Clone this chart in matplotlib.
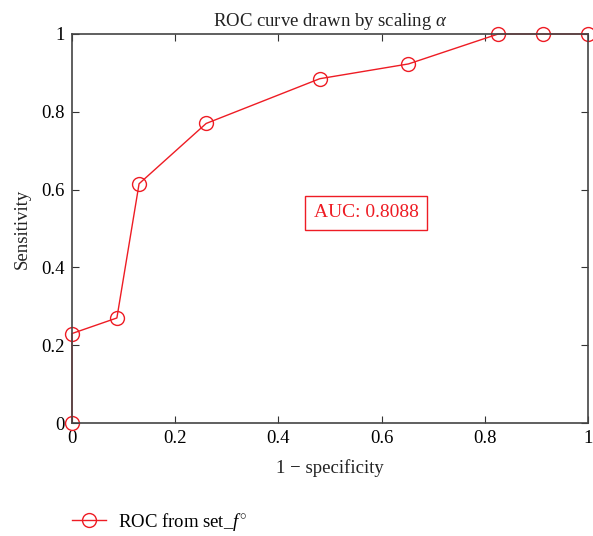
import numpy as np
import matplotlib.pyplot as plt

plt.rcParams['font.family'] = ['Liberation Serif', 'DejaVu Serif']
plt.rcParams['mathtext.fontset'] = 'custom'
plt.rcParams['mathtext.it'] = 'Liberation Serif:italic'
plt.rcParams['mathtext.rm'] = 'Liberation Serif'

# ROC points
fpr = [0, 0, 0.087, 0.13, 0.26, 0.48, 0.652, 0.826, 0.913, 1.0]
tpr = [0, 0.23, 0.27, 0.615, 0.77, 0.885, 0.923, 1.0, 1.0, 1.0]
ticks = [0, 0.2, 0.4, 0.6, 0.8, 1]
tick_labels = ['0', '0.2', '0.4', '0.6', '0.8', '1']
auc = 0.8088

fig = plt.figure(figsize=(5.93, 5.36), dpi=100)
ax = fig.add_axes([0.1214, 0.2108, 0.8702, 0.7258])

red = '#ee1c24'
line, = ax.plot(fpr, tpr, color=red, lw=1, marker='o', markersize=10,
                markerfacecolor='none', markeredgecolor=red, markeredgewidth=1,
                clip_on=False, label=r'ROC from set_$f^{\circ}$')

ax.set_xlim(0, 1)
ax.set_ylim(0, 1)
ax.set_xticks(ticks)
ax.set_xticklabels(tick_labels)
ax.set_yticks(ticks)
ax.set_yticklabels(tick_labels)
ax.tick_params(direction='in', top=True, right=True, labelsize=13.5, color='#333333',
               length=5, pad=5)
for s in ax.spines.values():
    s.set_color('#444444')
    s.set_linewidth(1.2)

ax.set_title(r'ROC curve drawn by scaling $\alpha$', fontsize=13.5, pad=6, color='#222222')
ax.set_xlabel('1 \u2212 specificity', fontsize=13.5, labelpad=9, color='#222222')
ax.set_ylabel('Sensitivity', fontsize=13.5, labelpad=8, color='#222222')

ax.text(0.57, 0.54, f'AUC: {auc:.4f}', color=red, fontsize=14, ha='center', va='center',
        bbox=dict(boxstyle='square,pad=0.45', facecolor='white', edgecolor=red, linewidth=1))

fig.legend(handles=[line], loc='lower left', bbox_to_anchor=(0.093, -0.026), frameon=False,
           fontsize=13.5, handlelength=1.8, handletextpad=0.65)

plt.savefig('out.png', dpi=100)
